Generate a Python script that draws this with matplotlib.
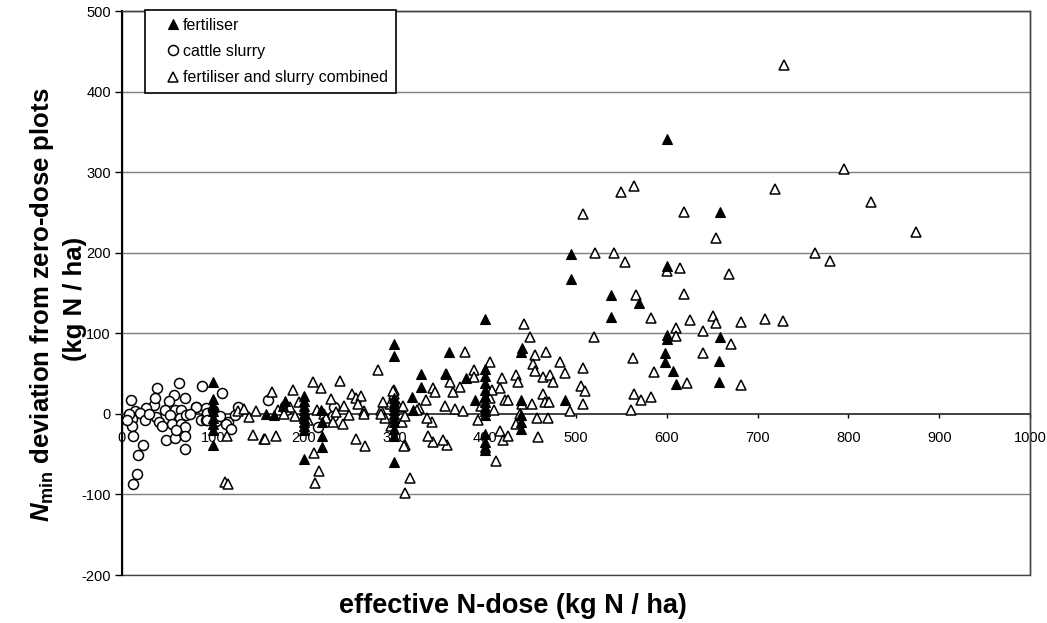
import matplotlib
matplotlib.use("Agg")
import matplotlib.pyplot as plt
from matplotlib.patches import Rectangle

# === DATOS ===
fert_x = [600, 659, 494, 494, 600, 539, 569, 539, 400, 600, 600, 659, 598, 598, 607, 610, 658, 658,
          360, 439, 440, 357, 379, 400, 400, 400, 400, 400, 400, 400, 400, 400, 389, 439, 439, 439, 439,
          400, 400, 400, 400, 488,
          300, 300, 329, 329, 319, 320, 300, 300, 300, 300, 300, 300, 300, 300, 300, 300,
          220, 200, 220, 200, 200, 200, 200, 200, 200, 200, 200, 200, 179, 167, 177, 159, 219, 220,
          100, 100, 100, 100, 100, 100, 100, 100]
fert_y = [341, 251, 198, 168, 184, 147, 138, 120, 118, 98, 93, 95, 75, 64, 53, 37, 66, 40,
          77, 77, 82, 49, 44, 56, 47, 38, 30, 22, 15, 8, 3, -2, 17, 17, -2, -10, -19,
          -25, -35, -41, -45, 17,
          87, 72, 50, 33, 21, 5, 20, 15, 10, 5, 0, -5, -10, -19, -27, -60,
          -41, -56, -27, 22, 16, 10, 5, 0, -5, -10, -15, -20, 16, -2, 10, 0, 5, -10,
          39, 19, 10, 3, -5, -12, -20, -39]

slurry_x = [10, 39, 63, 88, 110, 57, 69, 52, 35, 27, 47, 58, 65, 81, 93, 14, 20, 11, 38, 53,
            64, 71, 87, 93, 104, 117, 41, 55, 65, 25, 11, 44, 69, 115, 120, 12, 48, 58, 69, 23,
            69, 18, 16, 12, 128, 81, 94, 94, 161, 181, 216, 234, 30, 75, 100, 108, 8, 5, 125, 232,
            180, 60, 36]
slurry_y = [17, 32, 38, 34, 26, 24, 20, 16, 11, 7, 5, 5, 5, 8, 7, 3, 1, -6, -4, -2,
            -5, -2, -7, -7, -9, -10, -10, -12, -13, -8, -15, -15, -16, -12, -19, -27, -32, -30, -27, -38,
            -43, -51, -75, -87, 8, 9, 1, -7, 17, 5, -16, 9, 0, 0, 5, -3, 0, -8, -2, -3,
            10, -20, 20]

comb_x = [729, 795, 719, 825, 874, 564, 550, 508, 619, 654, 521, 542, 554, 763, 780, 600, 614, 668,
          566, 619, 583, 625, 651, 654, 682, 708, 728, 443, 449, 520, 610, 610, 640, 671,
          467, 455, 453, 482, 455, 488, 508, 563, 586, 640, 622, 564, 572, 583, 561, 682, 506, 510,
          508, 493, 464, 466, 470, 452, 457, 469, 434, 436, 464, 471, 475, 458, 412,
          378, 405, 388, 388, 418, 416, 422, 425, 441, 438, 434, 416, 420, 405, 407, 395, 410, 392,
          425, 372, 365, 356, 367, 376, 358, 357, 361, 343, 345, 335, 327, 341, 342, 312, 353, 337, 336,
          282, 285, 290, 295, 300, 300, 305, 308, 312, 288, 296, 310, 325, 311, 317, 312, 298,
          165, 188, 210, 219, 240, 253, 258, 263, 260, 266, 267, 285, 144, 156, 158, 170, 258, 268,
          211, 217, 213, 113, 117, 140, 128, 134, 116, 148,
          215, 222, 225, 232, 243, 236, 172, 185, 178, 190, 245, 250, 195, 230, 205]
comb_y = [433, 304, 279, 263, 226, 283, 275, 248, 250, 218, 200, 200, 188, 200, 190, 177, 181, 174,
          148, 149, 119, 117, 122, 113, 114, 118, 115, 112, 95, 95, 106, 97, 103, 87,
          77, 73, 62, 64, 53, 51, 57, 69, 52, 76, 38, 25, 17, 21, 5, 36, 35, 29,
          12, 4, 25, 15, 15, 12, -5, -5, 48, 39, 46, 48, 40, -29, -58,
          77, 65, 54, 46, 44, 32, 17, 17, 12, 0, -12, -21, -33, 20, 30, 10, 5, -8,
          -28, 33, 27, 10, 6, 4, -38, 49, 40, 32, 27, 17, 7, -10, -35, -39, -32, -27, -5,
          55, 5, -5, 12, 30, 25, 8, -10, -3, 15, -15, 10, 5, -40, -79, -98, 29,
          27, 30, 40, 32, 41, 25, 20, 22, 12, 4, 0, 0, -26, -31, -31, -27, -31, -40,
          -49, -71, -86, -85, -87, -4, 4, 6, -28, 3,
          5, 0, -5, -10, -13, 2, 5, 8, 0, -3, 10, -2, 15, 18, -8]

x_ticks = list(range(0, 1001, 100))
y_ticks = list(range(-200, 501, 100))

# === ESTILO ===
plt.rcParams["font.family"] = ["Liberation Sans", "DejaVu Sans"]
plt.rcParams["axes.unicode_minus"] = False
plt.rcParams["mathtext.fontset"] = "custom"
plt.rcParams["mathtext.rm"] = "Liberation Sans:bold"
plt.rcParams["mathtext.it"] = "Liberation Sans:italic:bold"
plt.rcParams["mathtext.bf"] = "Liberation Sans:bold"

fig = plt.figure(figsize=(10.47, 6.23), dpi=100)
ax = fig.add_axes([0.1165, 0.077, 0.8673, 0.9053])

grid_col = "#7f7f7f"
for yv in y_ticks:
    if yv != 0:
        ax.axhline(yv, color=grid_col, lw=1.0, zorder=1)

ax.plot(slurry_x, slurry_y, "o", ms=7.2, mfc="white", mec="black", mew=1.1,
        ls="none", label="cattle slurry", zorder=3)
ax.plot(comb_x, comb_y, "^", ms=6.5, mfc="white", mec="black", mew=1.1,
        ls="none", label="fertiliser and slurry combined", zorder=3)
ax.plot(fert_x, fert_y, "^", ms=6.5, mfc="black", mec="black", mew=0.8,
        ls="none", label="fertiliser", zorder=4)

ax.set_xlim(0, 1000)
ax.set_ylim(-200, 500)

# eje x cruzando en y=0 (estilo Excel)
ax.spines["bottom"].set_position(("data", 0))
ax.spines["bottom"].set_color("#333333")
ax.spines["bottom"].set_linewidth(1.3)
ax.spines["left"].set_linewidth(1.5)
ax.spines["left"].set_color("black")
for s in ["top", "right"]:
    ax.spines[s].set_color("#444444")
    ax.spines[s].set_linewidth(1.0)
ax.add_patch(Rectangle((0, 0), 1, 1, transform=ax.transAxes, fill=False,
                       ec="#444444", lw=1.0, clip_on=False, zorder=0))

ax.set_xticks(x_ticks)
ax.set_yticks(y_ticks)
ax.tick_params(axis="x", direction="out", length=3, width=1, pad=9, labelsize=10.5,
               colors="black")
ax.tick_params(axis="y", direction="out", length=5, width=1, pad=3, labelsize=10.5)

h, l = ax.get_legend_handles_labels()
order = [2, 0, 1]
leg = ax.legend([h[i] for i in order], [l[i] for i in order], loc="upper left",
                bbox_to_anchor=(0.025, 1.002), fontsize=11.5, frameon=True, fancybox=False,
                edgecolor="black", framealpha=1, handlelength=2.5, handletextpad=-0.6,
                borderpad=0.5, labelspacing=0.7, borderaxespad=0)
leg.get_frame().set_linewidth(1.2)

fig.text(0.040, 0.51, r"$\mathit{N}_{\mathrm{min}}$ deviation from zero-dose plots",
         rotation=90, ha="center", va="center", fontsize=18.5, fontweight="bold")
fig.text(0.072, 0.52, "(kg N / ha)", rotation=90, ha="center", va="center",
         fontsize=18.5, fontweight="bold")
fig.text(0.49, 0.028, "effective N-dose (kg N / ha)", ha="center", va="center",
         fontsize=19.5, fontweight="bold")

fig.savefig("out.png", dpi=100)
